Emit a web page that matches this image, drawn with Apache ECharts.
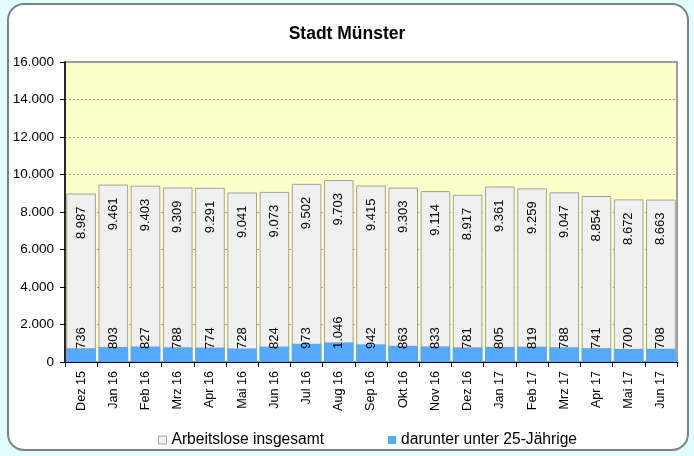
<!DOCTYPE html>
<html>
<head>
<meta charset="utf-8">
<script src="https://cdn.jsdelivr.net/npm/echarts@6/dist/echarts.min.js"></script>
<style>
html,body{margin:0;padding:0;background:#e2fdff;}
#c{width:694px;height:456px;}
</style>
</head>
<body>
<div id="c"></div>
<script>
const categories = ['Dez 15','Jan 16','Feb 16','Mrz 16','Apr 16','Mai 16','Jun 16','Jul 16','Aug 16','Sep 16','Okt 16','Nov 16','Dez 16','Jan 17','Feb 17','Mrz 17','Apr 17','Mai 17','Jun 17'];
const totalValues = [8987,9461,9403,9309,9291,9041,9073,9502,9703,9415,9303,9114,8917,9361,9259,9047,8854,8672,8663];
const youthValues = [736,803,827,788,774,728,824,973,1046,942,863,833,781,805,819,788,741,700,708];
const seriesNames = ['Arbeitslose insgesamt','darunter unter 25-Jährige'];
const titleText = 'Stadt Münster';

function fmt(n){ return String(n).replace(/\B(?=(\d{3})+(?!\d))/g, '.'); }
const FONT = 'Arial, "Liberation Sans", sans-serif';

const chart = echarts.init(document.getElementById('c'), null, {renderer:'canvas'});
chart.setOption({
  backgroundColor: '#e2fdff',
  animation: false,
  graphic: [{
    type: 'rect', z: -10, silent: true,
    shape: {x: 8, y: 4, width: 680, height: 446, r: 16},
    style: {fill: '#ffffff', stroke: '#808080', lineWidth: 2}
  }],
  title: {
    text: titleText, left: 'center', top: 20,
    textStyle: {fontFamily: FONT, fontSize: 17.5, fontWeight: 'bold', color: '#000'}
  },
  legend: {
    left: 153, top: 427,
    itemWidth: 8, itemHeight: 8, itemGap: 64,
    icon: 'rect',
    itemStyle: {borderWidth: 1},
    textStyle: {fontFamily: FONT, fontSize: 15.6, color: '#000'},
    data: seriesNames
  },
  grid: {
    left: 65, right: 17, top: 62, bottom: 94,
    show: true, backgroundColor: '#ffffcc', borderColor: '#808080', borderWidth: 1.5
  },
  xAxis: {
    type: 'category', data: categories,
    axisLine: {lineStyle: {color: '#000', width: 1}},
    axisTick: {show: true, length: 5, lineStyle: {color: '#000'}},
    axisLabel: {rotate: 90, interval: 0, fontFamily: FONT, fontSize: 12.6, color: '#000', margin: 9}
  },
  yAxis: {
    type: 'value', min: 0, max: 16000, interval: 2000,
    axisLine: {show: true, lineStyle: {color: '#000', width: 1.5}},
    axisTick: {show: true, length: 5, lineStyle: {color: '#000'}},
    axisLabel: {fontFamily: FONT, fontSize: 13.5, color: '#000', margin: 11, formatter: v => fmt(v)},
    splitLine: {show: true, lineStyle: {color: '#999', type: [2,2], width: 1}}
  },
  series: [{
    name: seriesNames[0], type: 'bar', data: totalValues,
    barCategoryGap: '8%',
    itemStyle: {color: '#f0f0f0', borderColor: '#a0a0a0', borderWidth: 1},
    label: {
      show: true, position: 'insideTop', rotate: 90, distance: 13,
      align: 'right', verticalAlign: 'middle',
      fontFamily: FONT, fontSize: 13, color: '#000',
      formatter: p => fmt(p.value)
    }
  }, {
    name: seriesNames[1], type: 'bar', data: youthValues,
    barGap: '-100%', barCategoryGap: '8%',
    itemStyle: {color: '#55aaff'},
    label: {
      show: true, position: 'insideBottom', rotate: 90, distance: 13,
      align: 'left', verticalAlign: 'middle',
      fontFamily: FONT, fontSize: 13, color: '#000',
      formatter: p => fmt(p.value)
    }
  }]
});
</script>
</body>
</html>
